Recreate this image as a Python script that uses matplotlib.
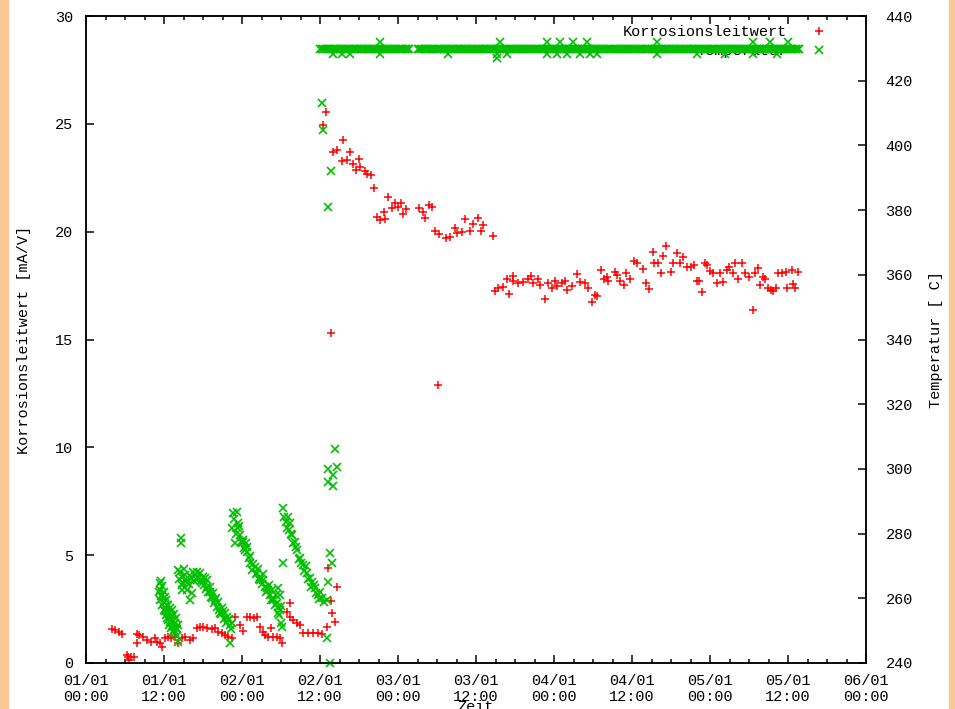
import numpy as np
import matplotlib
matplotlib.use("Agg")
import matplotlib.pyplot as plt
import matplotlib.dates as mdates
from matplotlib.lines import Line2D
from matplotlib.patches import Rectangle
import datetime as dt

# --- Korrosionsleitwert [mA/V], time in hours from 01/01 00:00 ---
cond_hours_start = [4.0, 4.46, 5.08, 5.54, 6.31, 6.46, 6.62, 6.92, 7.38, 7.85,
                    8.15, 7.85, 8.77, 9.38, 10.0, 10.6, 10.9, 11.4, 11.7, 12.15,
                    12.6, 13.1, 13.7, 14.15, 14.8, 15.2, 16.0, 16.5, 17.1, 17.5,
                    18.0, 18.6, 19.4, 19.85, 20.3, 20.9, 21.4, 21.85, 22.5, 22.9,
                    23.7, 24.15, 24.8, 25.2, 25.8, 26.3, 26.8, 27.2, 27.5, 28.0,
                    28.5, 28.8, 29.4, 29.85, 30.15, 30.9, 31.4, 31.4, 31.85, 32.5,
                    32.9, 33.4, 34.15, 34.9, 35.7, 36.3, 37.1, 37.2, 37.85, 38.3,
                    38.6, 37.7]
cond_start = [1.58, 1.53, 1.44, 1.34, 0.37, 0.28, 0.14, 0.28, 0.28, 1.34,
              1.30, 0.93, 1.21, 1.07, 0.97, 1.16, 0.97, 0.93, 0.74, 1.16,
              1.21, 1.16, 1.21, 0.93, 1.16, 1.21, 1.07, 1.16, 1.62, 1.67,
              1.67, 1.62, 1.58, 1.62, 1.44, 1.39, 1.30, 1.21, 1.16, 2.13,
              1.76, 1.48, 2.13, 2.13, 2.09, 2.13, 1.67, 1.44, 1.30, 1.21,
              1.62, 1.21, 1.21, 1.16, 0.93, 2.36, 2.78, 2.13, 1.99, 1.85,
              1.76, 1.39, 1.39, 1.39, 1.39, 1.34, 1.67, 4.40, 2.32, 1.90,
              3.52, 2.87]

cond_hours_hot = [36.5, 36.9, 37.7, 39.5, 38.0, 38.6, 40.6, 39.4, 40.15, 42.0,
                  41.1, 42.15, 41.5, 42.9, 43.2, 43.8, 44.3, 46.5, 47.5, 48.5,
                  47.1, 48.0, 49.2, 48.8, 45.85, 44.8, 45.2, 46.0, 51.2, 51.85,
                  52.8, 53.2, 52.15, 53.7, 54.3, 55.4, 56.0, 56.8, 57.1, 57.85,
                  58.3, 59.1, 59.5, 60.3, 61.1, 60.8, 62.6, 54.15]
cond_hot = [24.94, 25.55, 15.30, 24.25, 23.69, 23.78, 23.69, 23.27, 23.32, 23.37,
            23.13, 23.00, 22.86, 22.81, 22.67, 22.62, 22.02, 21.60, 21.33, 21.33,
            21.09, 21.14, 21.05, 20.82, 20.91, 20.68, 20.54, 20.58, 21.09, 20.91,
            21.23, 21.14, 20.63, 20.03, 19.89, 19.70, 19.75, 20.17, 19.94, 19.98,
            20.58, 20.03, 20.35, 20.63, 20.31, 20.03, 19.80, 12.89]

cond_hours_late = [62.9, 63.4, 64.15, 64.8, 65.1, 65.7, 65.7, 66.5, 67.2, 68.0,
                   68.5, 68.8, 69.5, 69.8, 70.6, 71.1, 71.7, 72.15, 72.5, 73.2,
                   73.7, 74.0, 74.8, 75.5, 76.0, 76.8, 77.2, 77.85, 78.3, 78.6,
                   79.2, 79.7, 80.15, 80.3, 81.4, 81.7, 82.15, 82.8, 83.1, 83.7,
                   84.3, 84.8, 85.7, 86.15, 86.6, 87.2, 87.4, 88.0, 88.5, 88.8,
                   89.2, 90.0, 90.3, 90.9, 91.4, 91.85, 92.5, 93.1, 93.5, 94.0,
                   94.3, 94.8, 95.2, 95.5, 96.0, 96.5, 97.1, 97.5, 98.0, 98.6,
                   98.9, 99.5, 99.85, 100.3, 100.9, 101.4, 102.0, 102.6, 102.9, 103.4,
                   103.7, 104.15, 104.5, 104.9, 105.4, 105.7, 106.15, 106.5, 107.1, 107.7,
                   107.85, 108.6, 108.8, 109.1, 109.5]
cond_late = [17.25, 17.39, 17.43, 17.80, 17.11, 17.94, 17.71, 17.62, 17.66, 17.80,
             17.94, 17.62, 17.80, 17.52, 16.88, 17.62, 17.39, 17.71, 17.48, 17.62,
             17.71, 17.29, 17.48, 18.03, 17.66, 17.62, 17.39, 16.74, 17.06, 17.01,
             18.22, 17.80, 17.90, 17.71, 18.13, 17.99, 17.71, 17.52, 18.08, 17.80,
             18.64, 18.54, 18.27, 17.62, 17.34, 19.05, 18.54, 18.54, 18.08, 18.87,
             19.33, 18.13, 18.54, 19.01, 18.54, 18.82, 18.36, 18.36, 18.45, 17.71,
             17.71, 17.20, 18.54, 18.45, 18.17, 18.08, 17.62, 18.08, 17.66, 18.22,
             18.36, 18.08, 18.54, 17.80, 18.54, 18.08, 17.90, 16.37, 18.08, 18.31,
             17.52, 17.90, 17.80, 17.39, 17.29, 17.25, 17.39, 18.08, 18.08, 18.13,
             17.39, 18.22, 17.57, 17.39, 18.13]

# --- Temperatur [C] while heating up ---
temp_hours_warmup = [11.4, 11.4, 11.4, 11.7, 11.7, 11.7, 12.0, 12.0, 12.0, 12.3,
                     12.3, 12.3, 12.6, 12.6, 12.6, 12.9, 12.9, 12.9, 13.2, 13.2,
                     13.2, 13.5, 13.5, 13.5, 13.85, 13.85, 14.15, 14.15, 14.6, 14.6,
                     12.15, 12.15, 12.45, 12.45, 12.75, 12.75, 13.05, 13.05, 13.35, 13.35,
                     13.7, 13.7, 14.0, 14.0, 11.55, 11.55, 11.25,
                     14.15, 14.5, 14.8, 14.9, 15.2, 15.5, 15.5, 14.8, 16.0, 16.3,
                     16.8, 17.1, 17.1, 17.5, 17.85, 18.0, 18.3, 18.6, 18.6, 19.1,
                     19.1, 19.4, 19.5, 19.85, 20.15, 20.3, 20.6, 20.9, 21.4, 21.7,
                     21.85, 22.15, 22.5, 22.15,
                     14.3, 14.7, 15.0, 15.4, 15.8, 16.1, 16.5, 16.6, 17.3, 17.7,
                     18.1, 18.4, 18.8, 19.2, 19.7, 20.0, 20.4, 20.8, 21.1, 21.2,
                     21.6, 22.0, 22.3,
                     22.6, 23.2, 23.4, 22.5, 23.4, 23.7, 22.9, 24.15, 24.15, 24.5,
                     24.8, 24.8, 25.2, 25.5, 26.0, 26.3, 26.8, 26.8, 27.2, 27.5,
                     27.85, 28.0, 28.3, 28.8, 28.8, 29.4, 29.5, 29.5, 29.85, 29.85,
                     29.7, 30.0, 30.15,
                     22.8, 23.0, 23.6, 23.9, 24.3, 24.6, 25.0, 25.3, 25.7, 26.1,
                     26.5, 26.6, 27.0, 27.3, 27.7, 28.1, 28.5, 28.6, 29.0, 29.2,
                     29.6, 30.05,
                     30.3, 31.1, 30.9, 31.4, 31.7, 32.15, 32.5, 32.9, 33.4, 34.0,
                     34.5, 34.8, 35.2, 35.7, 36.3, 37.1, 30.3,
                     30.5, 30.7, 31.2, 31.5, 31.9, 32.3, 32.7, 33.1, 33.6, 33.8,
                     34.2, 34.6, 35.0, 35.4, 35.9, 36.0, 36.6,
                     36.3, 36.5, 37.7, 37.2, 38.3, 37.2, 38.6, 38.0, 37.2, 38.0,
                     37.5, 37.85, 37.2, 37.1, 37.5]
temp_warmup = [264.7, 262.6, 259.5, 263.8, 261.0, 257.9, 261.9, 258.9, 256.4, 259.5,
               257.0, 254.8, 257.9, 255.8, 253.3, 257.0, 254.5, 252.7, 256.4, 253.3,
               251.4, 255.2, 252.1, 250.2, 253.9, 250.8, 251.7, 246.5, 278.6, 277.1,
               260.5, 256.0, 258.0, 253.9, 255.5, 251.9, 254.8, 250.8, 253.0, 249.6,
               252.4, 249.3, 250.5, 248.5, 265.5, 260.8, 262.0,
               268.7, 268.1, 266.6, 264.7, 267.2, 264.7, 262.6, 262.6, 259.5, 261.6,
               267.2, 268.1, 265.7, 267.8, 264.7, 266.6, 266.3, 265.7, 263.5, 263.5,
               261.9, 260.1, 261.6, 259.5, 257.3, 258.9, 255.5, 257.0, 255.5, 254.2,
               253.3, 251.7, 252.4, 246.2,
               266.0, 264.0, 269.0, 266.0, 264.5, 266.5, 268.0, 265.5, 266.5, 265.5,
               264.0, 263.0, 262.0, 260.5, 258.5, 260.0, 256.5, 255.0, 256.0, 253.5,
               252.5, 253.5, 250.5,
               286.4, 286.7, 283.3, 281.7, 281.7, 279.6, 277.1, 278.0, 277.4, 274.9,
               275.9, 274.3, 270.9, 268.7, 269.7, 267.8, 266.6, 265.7, 265.7, 263.5,
               263.2, 262.6, 261.0, 260.1, 259.5, 258.5, 263.2, 257.3, 261.0, 256.4,
               254.8, 252.4, 251.1,
               284.5, 280.0, 282.5, 277.5, 275.5, 277.0, 272.5, 273.0, 270.5, 267.5,
               269.0, 266.0, 264.5, 267.5, 262.0, 264.0, 259.5, 262.5, 258.0, 261.0,
               255.5, 257.5,
               287.9, 285.1, 281.7, 283.3, 279.6, 277.4, 274.9, 272.5, 270.3, 267.8,
               266.3, 265.0, 263.2, 261.0, 260.1, 259.5, 270.9,
               285.0, 283.5, 281.0, 280.0, 277.0, 276.0, 272.0, 271.0, 268.5, 270.0,
               266.0, 263.5, 264.0, 261.5, 259.8, 262.0, 258.8,
               413.1, 404.8, 392.1, 381.0, 306.2, 300.0, 300.6, 298.1, 296.0, 294.7,
               274.0, 270.9, 265.0, 247.7, 240.0]

# --- furnace at operating temperature, logged every 15 min ---
temp_run1_start = 36.0
temp_run1 = [429.8, 429.8, 429.9, 429.8, 429.7, 429.8, 429.8, 429.9, 429.8, 429.8, 429.7, 429.8, 429.9, 429.8,
             429.8, 429.7, 429.8, 429.8, 429.9, 429.8, 429.8, 429.8, 429.7, 429.8, 429.9, 429.8, 429.8, 429.7,
             429.9, 429.8, 429.8, 429.7, 429.8, 429.8, 429.9, 429.8, 429.7, 429.8, 429.8, 429.8, 429.9, 429.8,
             429.8, 429.8, 429.7, 429.9, 429.8, 429.8, 429.8, 429.9, 429.8, 429.7, 429.8, 429.8, 429.8, 429.9]
temp_run2_start = 51.0
temp_run2 = [429.8, 429.8, 429.9, 429.8, 429.7, 429.8, 429.8, 429.9, 429.8, 429.8, 429.7, 429.8, 429.9, 429.8,
             429.8, 429.7, 429.8, 429.8, 429.9, 429.8, 429.8, 429.8, 429.7, 429.8, 429.9, 429.8, 429.8, 429.7,
             429.9, 429.8, 429.8, 429.7, 429.8, 429.8, 429.9, 429.8, 429.7, 429.8, 429.8, 429.8, 429.9, 429.8,
             429.8, 429.8, 429.7, 429.9, 429.8, 429.8, 429.8, 429.9, 429.8, 429.7, 429.8, 429.8, 429.8, 429.9,
             429.8, 429.9, 429.8, 429.8, 429.7, 429.8, 429.9, 429.8, 429.8, 429.8, 429.7, 429.8, 429.8, 429.9,
             429.7, 429.8, 429.8, 429.9, 429.8, 429.8, 429.7, 429.8, 429.9, 429.8, 429.8, 429.8, 429.7, 429.8,
             429.8, 429.8, 429.9, 429.8, 429.7, 429.8, 429.8, 429.9, 429.8, 429.8, 429.7, 429.8, 429.9, 429.8,
             429.8, 429.7, 429.8, 429.8, 429.9, 429.8, 429.8, 429.8, 429.7, 429.8, 429.9, 429.8, 429.8, 429.7,
             429.9, 429.8, 429.8, 429.7, 429.8, 429.8, 429.9, 429.8, 429.7, 429.8, 429.8, 429.8, 429.9, 429.8,
             429.8, 429.8, 429.7, 429.9, 429.8, 429.8, 429.8, 429.9, 429.8, 429.7, 429.8, 429.8, 429.8, 429.9,
             429.8, 429.9, 429.8, 429.8, 429.7, 429.8, 429.9, 429.8, 429.8, 429.8, 429.7, 429.8, 429.8, 429.9,
             429.7, 429.8, 429.8, 429.9, 429.8, 429.8, 429.7, 429.8, 429.9, 429.8, 429.8, 429.8, 429.7, 429.8,
             429.8, 429.8, 429.9, 429.8, 429.7, 429.8, 429.8, 429.9, 429.8, 429.8, 429.7, 429.8, 429.9, 429.8,
             429.8, 429.7, 429.8, 429.8, 429.9, 429.8, 429.8, 429.8, 429.7, 429.8, 429.9, 429.8, 429.8, 429.7,
             429.9, 429.8, 429.8, 429.7, 429.8, 429.8, 429.9, 429.8, 429.7, 429.8, 429.8, 429.8, 429.9, 429.8,
             429.8, 429.8, 429.7, 429.9, 429.8, 429.8, 429.8, 429.9, 429.8, 429.7, 429.8, 429.8, 429.8, 429.9,
             429.8, 429.9, 429.8, 429.8, 429.7, 429.8, 429.9, 429.8, 429.8, 429.8, 429.7, 429.8]
temp_spike_hours = [45.2, 63.7, 70.9, 72.9, 74.9, 77.1, 87.8, 102.6, 105.2, 108.0,
                    38.0, 39.4, 40.6, 45.2, 55.7, 63.2, 64.8, 70.9, 72.5, 74.0,
                    76.0, 77.5, 78.6, 87.8, 94.0, 98.3, 102.6, 106.3, 63.2]
temp_spike = [432.0, 432.1, 431.9, 432.0, 432.1, 432.0, 431.9, 432.0, 432.1, 432.0,
              428.3, 428.2, 428.3, 428.4, 428.3, 428.2, 428.3, 428.3, 428.4, 428.2,
              428.3, 428.3, 428.2, 428.3, 428.4, 428.3, 428.2, 428.3, 427.0]

LOG_STEP = 0.25  # hours between logged temperatures

base = mdates.date2num(dt.datetime(2000, 1, 1))


def to_days(hours):
    return base + np.asarray(hours) / 24.0


cond_h = cond_hours_start + cond_hours_hot + cond_hours_late
cond_v = cond_start + cond_hot + cond_late
run1_h = temp_run1_start + LOG_STEP * np.arange(len(temp_run1))
run2_h = temp_run2_start + LOG_STEP * np.arange(len(temp_run2))
temp_h = np.concatenate([temp_hours_warmup, run1_h, run2_h, temp_spike_hours])
temp_v = np.concatenate([temp_warmup, temp_run1, temp_run2, temp_spike])

plt.rcParams['font.family'] = ['Liberation Mono', 'DejaVu Sans Mono']
plt.rcParams['font.size'] = 11

RED = '#ff0000'
GREEN = '#00c000'
LW = 1.08

fig = plt.figure(figsize=(9.55, 7.09), dpi=100)
fig.patches.append(Rectangle((0, 0), 8 / 955, 1, transform=fig.transFigure,
                             color='#f9c995', zorder=0))
fig.patches.append(Rectangle((949 / 955, 0), 6 / 955, 1, transform=fig.transFigure,
                             color='#f9c995', zorder=0))

ax = fig.add_axes([86 / 955, 46 / 709, 780 / 955, 647 / 709])
ax2 = ax.twinx()

ax.plot(to_days(cond_h), cond_v, ls='none', marker='+', ms=5.2, mew=LW,
        color=RED, clip_on=False)
ax2.plot(to_days(temp_h), temp_v, ls='none', marker='x', ms=5.5, mew=1.2,
         color=GREEN, clip_on=False)

ax.set_xlim(base, base + 5)
ax.set_ylim(0, 30)
ax2.set_ylim(240, 440)
ax.set_yticks(np.arange(0, 31, 5))
ax2.set_yticks(np.arange(240, 441, 20))

ax.xaxis.set_major_locator(mdates.HourLocator(byhour=[0, 12]))
ax.xaxis.set_minor_locator(mdates.HourLocator(byhour=range(0, 24, 3)))
ax.xaxis.set_major_formatter(mdates.DateFormatter('%d/%m\n%H:%M'))

ax.tick_params(axis='x', which='major', direction='in', top=True, bottom=True,
               length=5.8, width=LW, pad=8)
ax.tick_params(axis='x', which='minor', direction='in', top=True, bottom=True,
               length=2.9, width=LW)
ax.tick_params(axis='y', direction='in', left=True, right=False,
               length=5.8, width=LW, pad=9)
ax2.tick_params(axis='y', direction='in', right=True, length=5.8, width=LW, pad=14)
for lbl in ax.get_xticklabels():
    lbl.set_linespacing(1.15)

for a in (ax, ax2):
    for sp in a.spines.values():
        sp.set_linewidth(LW)

ax.set_ylabel('Korrosionsleitwert [mA/V]')
ax.yaxis.set_label_coords((31 - 86) / 780, 0.5)
ax2.set_ylabel('Temperatur [ C]')
ax2.yaxis.set_label_coords((929 - 86) / 780, 0.5)
fig.text(476 / 955, 1 - 700 / 709, 'Zeit', ha='center', va='top')

# key, text right-aligned in front of the symbol
leg_kw = dict(loc='upper right', markerfirst=False, frameon=False, borderpad=0,
              borderaxespad=0, handlelength=1.0, handletextpad=1.6, numpoints=1)
h_cond = Line2D([], [], ls='none', marker='+', ms=5.2, mew=LW, color=RED)
h_temp = Line2D([], [], ls='none', marker='x', ms=5.5, mew=1.2, color=GREEN)
leg1 = ax.legend([h_cond], ['Korrosionsleitwert'],
                 bbox_to_anchor=((827 - 86) / 780, (663 - 25) / 647), **leg_kw)
ax.add_artist(leg1)
ax.legend([h_temp], ['Temperatur'],
          bbox_to_anchor=((827 - 86) / 780, (663 - 44) / 647), **leg_kw)

fig.savefig('out.png', dpi=100)
